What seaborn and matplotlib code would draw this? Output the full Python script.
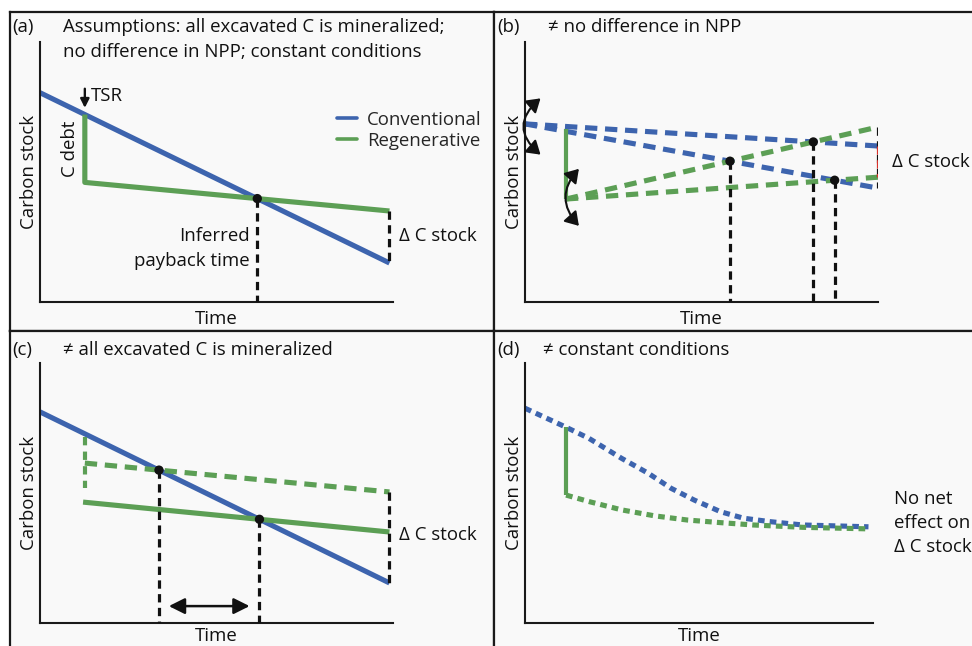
import numpy as np
import pandas as pd
import matplotlib
matplotlib.use("Agg")
import matplotlib.pyplot as plt
import seaborn as sns
from matplotlib.patches import FancyArrowPatch
from matplotlib.lines import Line2D

sns.set_theme(style="white")
FONT = ["Open Sans", "DejaVu Sans"]
plt.rcParams["font.family"] = FONT

BLUE = "#3d64ae"
GREEN = "#5c9f55"
RED = "#d9312b"
BG = "#f9f9f9"

# ---------------- data (conceptual units: time 0-10, carbon 0-10) -------------
# panel (a)
a_conv_x = [0.0, 9.9]
a_conv_y = [8.05, 1.5]
a_regen_x = [1.27, 1.27, 9.9]
a_regen_y = [7.21, 4.6, 3.5]

# panel (b)
b_conv_hi_x = [0.0, 10.0]
b_conv_hi_y = [6.85, 6.0]
b_conv_lo_x = [0.0, 10.0]
b_conv_lo_y = [6.85, 4.38]
b_debt_x = [1.16, 1.16]
b_debt_y = [6.65, 3.96]
b_regen_hi_x = [1.16, 10.0]
b_regen_hi_y = [3.96, 6.73]
b_regen_lo_x = [1.16, 10.0]
b_regen_lo_y = [3.96, 4.8]

# panel (c)
c_conv_x = [0.0, 9.9]
c_conv_y = [8.12, 1.54]
c_regen_x = [1.22, 9.9]
c_regen_y = [4.65, 3.5]
c_debt_x = [1.27, 1.27]
c_debt_y = [7.15, 5.2]
c_regen2_x = [1.27, 9.9]
c_regen2_y = [6.15, 5.04]

# panel (d)
d_conv_x = [0.0, 1.18, 1.84, 2.78, 3.54, 4.2, 4.86, 5.62, 6.28, 7.03, 7.98, 9.87]
d_conv_y = [8.26, 7.53, 7.10, 6.33, 5.76, 5.18, 4.73, 4.28, 4.03, 3.90, 3.77, 3.70]
d_debt_x = [1.18, 1.18]
d_debt_y = [7.53, 4.92]
d_regen_x = [1.18, 1.84, 2.78, 3.73, 4.67, 5.62, 6.56, 7.98, 9.87]
d_regen_y = [4.92, 4.67, 4.35, 4.12, 3.96, 3.86, 3.77, 3.68, 3.62]

titles = {
    "a": ["Assumptions: all excavated C is mineralized;",
          "no difference in NPP; constant conditions"],
    "b": ["\u2260 no difference in NPP"],
    "c": ["\u2260 all excavated C is mineralized"],
    "d": ["\u2260 constant conditions"],
}

# ---------------- figure layout ----------------
W, H = 972, 646
fig = plt.figure(figsize=(W / 100, H / 100), dpi=100)
fig.patch.set_facecolor("white")


def px_axes(l, t, r, b):
    return fig.add_axes([l / W, 1 - b / H, (r - l) / W, (b - t) / H])


# panel boxes
for (l, t, r, b) in [(10, 12, 494, 331), (494, 12, 980, 331),
                     (10, 331, 494, 660), (494, 331, 980, 660)]:
    bx = px_axes(l, t, r, b)
    bx.set_facecolor(BG)
    bx.set_xticks([]); bx.set_yticks([])
    for s in bx.spines.values():
        s.set_color("#1a1a1a"); s.set_linewidth(1.6)

FS = 13.4
LW = 3.7
ALW = 1.5
TXT = "#111111"


def inner(l, t, r, b):
    ax = px_axes(l, t, r, b)
    ax.set_facecolor("none")
    ax.set_xlim(0, 10)
    ax.set_ylim(0, 10)
    ax.set_xticks([]); ax.set_yticks([])
    for s in ["top", "right"]:
        ax.spines[s].set_visible(False)
    for s in ["left", "bottom"]:
        ax.spines[s].set_color("#1a1a1a"); ax.spines[s].set_linewidth(ALW)
    return ax


def labels(ax, xpad):
    ax.set_xlabel("Time", fontsize=FS, labelpad=xpad, color=TXT, visible=True)
    ax.set_ylabel("Carbon stock", fontsize=FS, labelpad=1.5, color=TXT, visible=True)


def line(ax, x, y, color, lw=LW, ls="-", z=2):
    df = pd.DataFrame({"x": x, "y": y})
    sns.lineplot(data=df, x="x", y="y", ax=ax, color=color, linewidth=lw,
                 linestyle=ls, sort=False, estimator=None, zorder=z,
                 solid_capstyle="butt", dash_capstyle="butt")


def cross(x1, y1, x2, y2):
    # intersection of two straight segments given as 2-point lists
    m1 = (y1[-1] - y1[-2]) / (x1[-1] - x1[-2])
    m2 = (y2[-1] - y2[-2]) / (x2[-1] - x2[-2])
    b1 = y1[-1] - m1 * x1[-1]
    b2 = y2[-1] - m2 * x2[-1]
    xi = (b2 - b1) / (m1 - m2)
    return xi, m1 * xi + b1


VD = (0, (2.6, 1.7))


def vdash(ax, x, y0, y1, color="#111", z=3):
    line(ax, [x, x], [y0, y1], color, lw=2.3, ls=VD, z=z)


def dot(ax, pts):
    df = pd.DataFrame(pts, columns=["x", "y"])
    sns.scatterplot(data=df, x="x", y="y", ax=ax, color="#111", s=45,
                    zorder=6, edgecolor="none")


def title(x_lab, x_txt, y, lab, lines_, step=25):
    fig.text(x_lab / W, 1 - y / H, lab, fontsize=FS, va="center", ha="left", color=TXT)
    for i, t in enumerate(lines_):
        fig.text(x_txt / W, 1 - (y + i * step) / H, t, fontsize=FS, va="center",
                 ha="left", color=TXT)


DASH = (0, (2.4, 1.5))
DOT = (0, (1.3, 1.0))

# ---------------- panel (a) ----------------
ax = inner(40, 42, 393, 302)
line(ax, a_conv_x, a_conv_y, BLUE)
line(ax, a_regen_x, a_regen_y, GREEN)
xi, yi = cross(a_conv_x, a_conv_y, a_regen_x, a_regen_y)
vdash(ax, xi, yi, 0)
vdash(ax, a_conv_x[-1], a_regen_y[-1], a_conv_y[-1])
dot(ax, [(xi, yi)])
ax.annotate("", xy=(a_regen_x[0], a_regen_y[0] + 0.15), xytext=(a_regen_x[0], a_regen_y[0] + 1.1),
            arrowprops=dict(arrowstyle="-|>", color="#111", lw=1.7, mutation_scale=13),
            annotation_clip=False)
ax.text(a_regen_x[0] + 0.17, a_regen_y[0] + 0.72, "TSR", fontsize=FS, va="center", ha="left", color=TXT)
ax.text(a_regen_x[0] - 0.42, (a_regen_y[0] + a_regen_y[1]) / 2, "C debt", rotation=90,
        fontsize=FS, va="center", ha="center", color=TXT)
ax.text(xi - 0.22, 2.04, "Inferred\npayback time", fontsize=FS, ha="right", va="center",
        linespacing=1.5, color=TXT)
ax.text(a_conv_x[-1] + 0.28, 2.54, "\u0394 C stock", fontsize=FS, ha="left", va="center", color=TXT)
handles = [Line2D([], [], color=BLUE, lw=2.6), Line2D([], [], color=GREEN, lw=2.6)]
ax.legend(handles, ["Conventional", "Regenerative"], loc="upper left",
          bbox_to_anchor=((337 - 40) / 353, (302 - 111) / 260), frameon=False,
          fontsize=FS, handlelength=1.05, handletextpad=0.55, labelspacing=0.15,
          borderaxespad=0, borderpad=0)
labels(ax, 5.5)
title(12, 63, 27, "(a)", titles["a"])

# ---------------- panel (b) ----------------
ax = inner(525, 42, 878, 302)
line(ax, b_conv_hi_x, b_conv_hi_y, BLUE, ls=DASH)
line(ax, b_conv_lo_x, b_conv_lo_y, BLUE, ls=DASH)
line(ax, b_regen_hi_x, b_regen_hi_y, GREEN, ls=DASH)
line(ax, b_regen_lo_x, b_regen_lo_y, GREEN, ls=DASH)
line(ax, b_debt_x, b_debt_y, GREEN, lw=3.0)
p1 = cross(b_regen_hi_x, b_regen_hi_y, b_conv_lo_x, b_conv_lo_y)
p2 = cross(b_regen_hi_x, b_regen_hi_y, b_conv_hi_x, b_conv_hi_y)
p3 = cross(b_regen_lo_x, b_regen_lo_y, b_conv_lo_x, b_conv_lo_y)
for p in (p1, p2, p3):
    vdash(ax, p[0], p[1], 0)
dot(ax, [p1, p2, p3])
xe = b_conv_hi_x[-1]
vdash(ax, xe, b_regen_hi_y[-1], b_conv_lo_y[-1], z=7)
vdash(ax, xe, b_conv_hi_y[-1], b_regen_lo_y[-1], color=RED, z=8)
ax.text(xe + 0.4, (b_conv_hi_y[-1] + b_regen_lo_y[-1]) / 2, "\u0394 C stock", fontsize=FS,
        ha="left", va="center", color=TXT)
for (x0, y0, y1, rad) in [(0.5, 7.9, 5.6, 0.62), (1.58, 5.2, 2.85, 0.48)]:
    arr = FancyArrowPatch((x0, y0), (x0, y1), connectionstyle=f"arc3,rad={rad}",
                          arrowstyle="<|-|>,head_length=0.5,head_width=0.32",
                          mutation_scale=16, color="#111", lw=1.5, zorder=5,
                          clip_on=False)
    ax.add_patch(arr)
labels(ax, 5.5)
title(497, 548, 27, "(b)", titles["b"])

# ---------------- panel (c) ----------------
ax = inner(40, 363, 393, 623)
line(ax, c_conv_x, c_conv_y, BLUE)
line(ax, c_regen_x, c_regen_y, GREEN)
line(ax, c_debt_x, c_debt_y, GREEN, lw=3.0, ls=(0, (2.0, 1.5)))
line(ax, c_regen2_x, c_regen2_y, GREEN, ls=DASH)
q1 = cross(c_conv_x, c_conv_y, c_regen2_x, c_regen2_y)
q2 = cross(c_conv_x, c_conv_y, c_regen_x, c_regen_y)
vdash(ax, q1[0], q1[1], 0)
vdash(ax, q2[0], q2[1], 0)
vdash(ax, c_conv_x[-1], c_regen2_y[-1], c_conv_y[-1])
dot(ax, [q1, q2])
ax.annotate("", xy=(q2[0] - 0.28, 0.65), xytext=(q1[0] + 0.28, 0.65),
            arrowprops=dict(arrowstyle="<|-|>,head_length=0.6,head_width=0.3",
                            color="#111", lw=1.8, mutation_scale=16, shrinkA=0, shrinkB=0))
ax.text(c_conv_x[-1] + 0.28, 3.38, "\u0394 C stock", fontsize=FS, ha="left", va="center", color=TXT)
labels(ax, 2.8)
title(12, 63, 350, "(c)", titles["c"])

# ---------------- panel (d) ----------------
ax = inner(525, 363, 873, 623)
line(ax, d_conv_x, d_conv_y, BLUE, ls=DOT)
line(ax, d_regen_x, d_regen_y, GREEN, ls=DOT)
line(ax, d_debt_x, d_debt_y, GREEN, lw=3.0)
ax.text(10.6, 3.85, "No net\neffect on\n\u0394 C stock", fontsize=FS, ha="left", va="center",
        linespacing=1.45, color=TXT)
labels(ax, 2.8)
title(497, 543, 350, "(d)", titles["d"])

fig.savefig("out.png", dpi=100, facecolor="white")
